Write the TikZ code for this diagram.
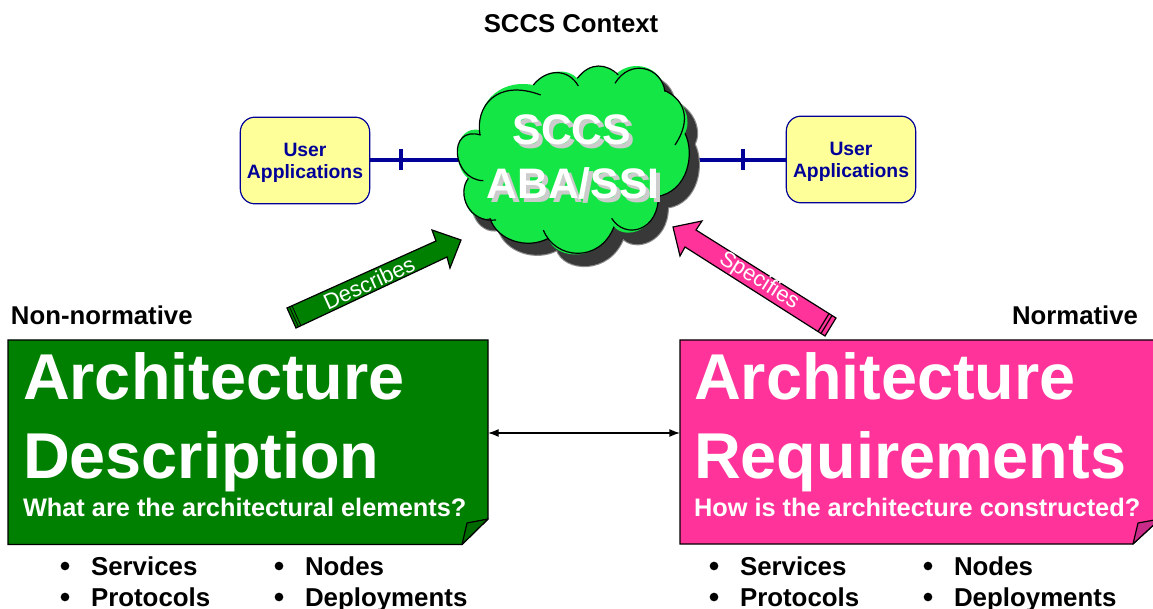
\documentclass[tikz,border=0pt]{standalone}
\usepackage{fontspec}
\usetikzlibrary{calc,arrows.meta}
\setmainfont{Liberation Sans}
\definecolor{cloudgreen}{HTML}{14E646}
\definecolor{navy}{HTML}{000099}
\definecolor{paleyellow}{HTML}{FFFF99}
\definecolor{docgreen}{HTML}{008000}
\definecolor{foldgreen}{HTML}{006A00}
\definecolor{docpink}{HTML}{FF3399}
\definecolor{foldpink}{HTML}{C92C88}
\newcommand{\fsz}[1]{\fontsize{#1}{#1}\selectfont\bfseries}
\newcommand{\cloudpath}{
  (120,255) .. controls (105,170) and (170,85) .. (280,105)
  .. controls (320,55) and (385,55) .. (412,85)
  .. controls (450,35) and (500,40) .. (528,72)
  .. controls (580,25) and (665,50) .. (675,122)
  .. controls (735,150) and (755,210) .. (735,250)
  .. controls (765,310) and (745,425) .. (655,438)
  .. controls (655,545) and (555,570) .. (522,530)
  .. controls (480,640) and (345,630) .. (325,565)
  .. controls (260,600) and (170,570) .. (150,505)
  .. controls (85,520) and (50,430) .. (85,385)
  .. controls (35,350) and (40,225) .. (120,240) -- cycle}
\tikzset{
  every node/.style={inner sep=0pt,outer sep=0pt},
  px/.style={x=0.75pt,y=-0.75pt},
  appbox/.style={draw=navy,line width=0.9pt,fill=paleyellow,rounded corners=11pt,minimum width=97pt,minimum height=65pt,align=center,text=navy,font=\fontsize{14.5}{16.5}\selectfont\bfseries},
  link/.style={draw=navy,line width=3pt},
  tickmark/.style={draw=navy,line width=3pt},
  lbl/.style={anchor=base west,font=\fsz{19.3}},
  big/.style={anchor=base west,text=white,font=\fsz{48.6}},
  subline/.style={anchor=base west,text=white,font=\fsz{19}},
  listitem/.style={anchor=base west,font=\fsz{19.4}},
  bulletdot/.style={circle,fill=black,minimum size=6.5pt},
  outl/.style={draw=black,line width=0.9pt},
  lobe/.style={draw=black,line width=0.9pt},
}
\begin{document}
\begin{tikzpicture}[px]
\useasboundingbox (0,0) rectangle (1153,609);
\fill[white] (0,0) rectangle (1153,609);
\node[anchor=base,font=\fsz{19.3}] (title) at (571,33) {SCCS Context};
\node[appbox] (appL) at (305,160.5) {\rule{0pt}{13.4pt}User\\Applications};
\node[appbox] (appR) at (851,159.5) {\rule{0pt}{13.4pt}User\\Applications};
\coordinate (cloudL) at (480,160);
\coordinate (cloudR) at (690,160);
\draw[link] (appL.east |- cloudL) -- (cloudL);
\draw[link] (appR.west |- cloudR) -- (cloudR);
\coordinate (tickL) at (401,160);
\coordinate (tickR) at (743,160);
\draw[tickmark] ($(tickL)+(0,-11)$) -- ($(tickL)+(0,10)$);
\draw[tickmark] ($(tickR)+(0,-11)$) -- ($(tickR)+(0,10)$);
% cloud
\begin{scope}[shift={(449,61)},x=0.25pt,y=-0.25pt]
  \fill[black!45,draw=black!45,line width=2.5pt,line join=round] \cloudpath;
  \fill[black!78,draw=black!78,line width=0.8pt,line join=round] \cloudpath;
\end{scope}
\begin{scope}[shift={(440,50)},x=0.25pt,y=-0.25pt]
  \fill[cloudgreen] \cloudpath;
  \draw[lobe] (120,255) .. controls (105,170) and (170,85) .. (302,135);
  \draw[lobe] (280,105) .. controls (320,55) and (385,55) .. (415,108);
  \draw[lobe] (412,85) .. controls (450,35) and (500,40) .. (535,75);
  \draw[lobe] (525,100) .. controls (570,25) and (665,50) .. (675,125);
  \draw[lobe] (675,122) .. controls (735,150) and (755,210) .. (705,285);
  \draw[lobe] (735,250) .. controls (765,310) and (745,425) .. (650,440);
  \draw[lobe] (655,430) .. controls (660,545) and (555,570) .. (515,505);
  \draw[lobe] (522,530) .. controls (480,640) and (345,630) .. (310,540);
  \draw[lobe] (325,565) .. controls (260,600) and (170,570) .. (150,505);
  \draw[lobe] (168,510) .. controls (85,520) and (50,430) .. (85,385);
  \draw[lobe] (130,392) .. controls (35,390) and (20,225) .. (122,255);
\end{scope}
\foreach \dx/\dy/\tc in {4/4/black!20, 0/0/white}{
  \node[anchor=base,text=\tc,font=\fsz{32}] at ($(572,145)+(\dx,\dy)$) {SCCS};
  \node[anchor=base,text=\tc,font=\fsz{32}] at ($(573,199)+(\dx,\dy)$) {ABA/SSI};
}
% arrows
\draw[outl,fill=docgreen,line join=miter] (287,308) -- (436,241) -- (432,230) -- (461,240) -- (450,268) -- (447,257) -- (296,328) -- cycle;
\draw[black,line width=0.6pt] (289.5,306.9) -- (298.5,326.9) (292,305.8) -- (301,325.8);
\node[text=white,rotate=24.5,font=\fontsize{16.5}{16.5}\selectfont] (desc) at (369,283) {Describes};
\draw[outl,fill=docpink,line join=miter] (673,227) -- (702,221) -- (696,230) -- (836,318) -- (825,336) -- (685,247) -- (680,256) -- cycle;
\draw[black,line width=0.9pt] (832,315.5) -- (821,333.5) (829,313.6) -- (818,331.6);
\node[text=white,rotate=-32,font=\fontsize{16.5}{16.5}\selectfont] (spec) at (759,281) {Specifies};
% documents
\draw[outl,fill=docgreen] (8,340) -- (488,340) -- (488,519) -- (462,544.5) -- (8,544.5) -- cycle;
\draw[outl,fill=foldgreen,line join=round] (488,519) -- (467,523) -- (462,544.5) -- cycle;
\draw[outl,fill=docpink] (680,340) -- (1160,340) -- (1160,519) -- (1133,544) -- (680,544) -- cycle;
\draw[outl,fill=foldpink,line join=round] (1160,519) -- (1138,523) -- (1133,544) -- cycle;
\coordinate (docLe) at (488,433);
\coordinate (docRw) at (680,433);
\draw[{Latex[length=8pt,width=6pt]}-{Latex[length=8pt,width=6pt]},line width=1pt] (docLe) -- (docRw);
\node[lbl] (nn) at (11,325) {Non-normative};
\node[lbl,anchor=base east] (nr) at (1138,325) {Normative};
\node[big] (a1) at (23,400) {Architecture};
\node[big] (a2) at (23,478) {Description};
\node[subline] (a3) at (23,516) {What are the architectural elements?};
\node[big] (b1) at (694,400) {Architecture};
\node[big] (b2) at (694,478) {Requirements};
\node[subline] (b3) at (694,516) {How is the architecture constructed?};
\foreach \x/\t/\y in {91/Services/575,91/Protocols/606,305/Nodes/575,305/Deployments/606,740/Services/575,740/Protocols/606,954/Nodes/575,954/Deployments/606}{
  \node[listitem] at (\x,\y) {\t};
  \node[bulletdot] at ($(\x,\y)+(-26,-9)$) {};
}
\end{tikzpicture}
\end{document}
